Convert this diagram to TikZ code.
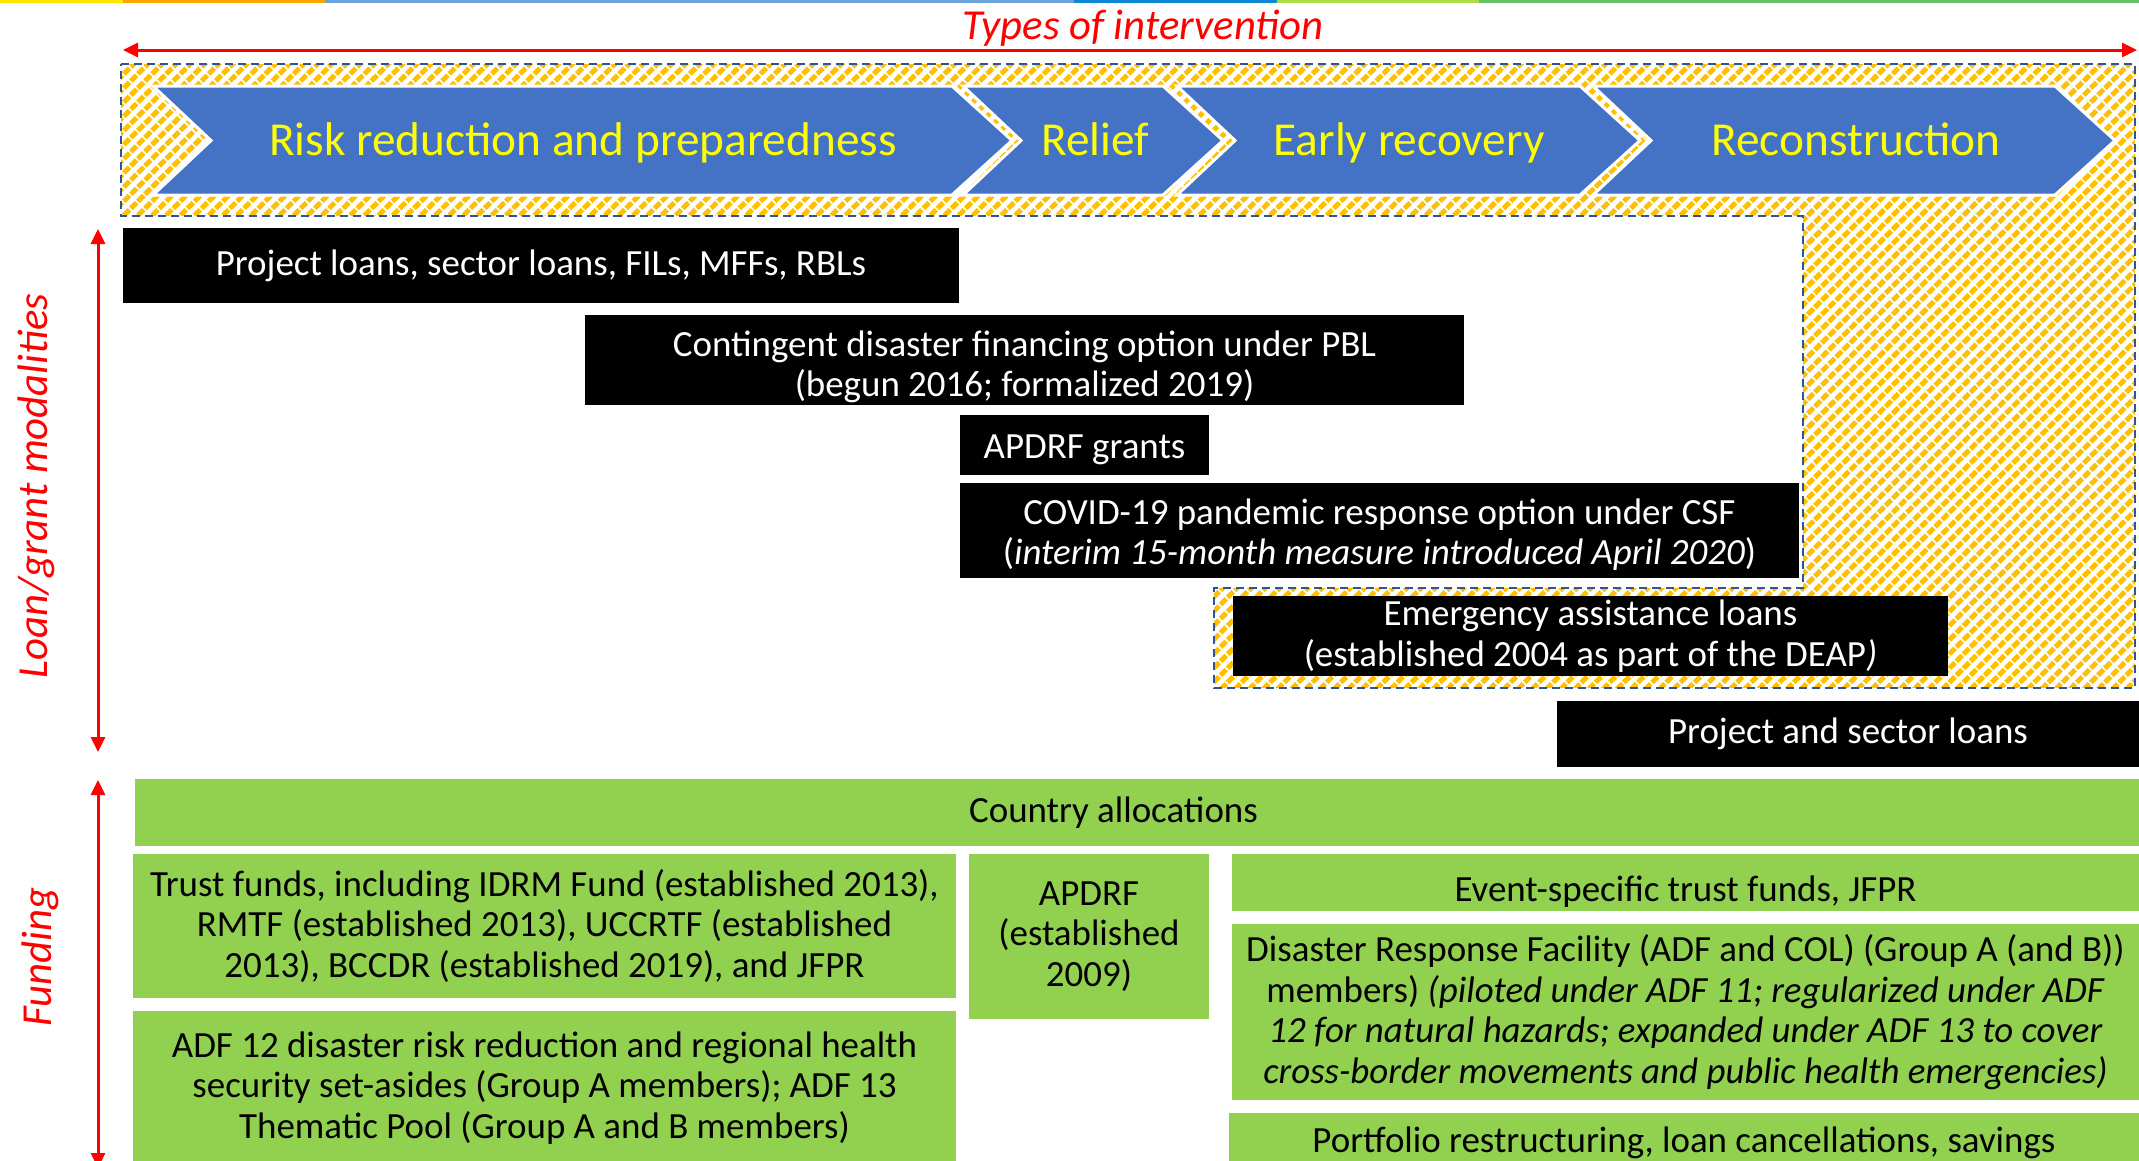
\documentclass[tikz,border=0pt]{standalone}
\usepackage{fontspec}
\setmainfont{Carlito}
\usetikzlibrary{arrows.meta,patterns.meta}
\definecolor{chevblue}{HTML}{4472C4}
\definecolor{hatchorange}{HTML}{FFC000}
\definecolor{dashblue}{HTML}{2F5597}
\definecolor{fundgreen}{HTML}{92D050}
\definecolor{textyellow}{HTML}{FFFF00}

% lowers one line of text without changing the size TikZ sees
\newcommand{\lowerline}[2]{\raisebox{-#1}[\height][\depth]{#2}}

\tikzset{
  chev/.style={fill=chevblue, draw=white, line width=0.03cm},
  chevtext/.style={text=textyellow, inner sep=0pt, anchor=base, font=\fontsize{13.45}{15}\selectfont},
  modbox/.style={fill=black, text=white, inner sep=0pt, align=center, font=\fontsize{10.5}{11.5}\selectfont},
  fundbox/.style={fill=fundgreen, text=black, inner sep=0pt, align=center, font=\fontsize{10.5}{11.5}\selectfont},
  redlabel/.style={text=red, inner sep=0pt, font=\fontsize{12.15}{14}\selectfont\itshape},
  redarrow/.style={draw=red, line width=0.03cm, {Triangle[length=0.15cm,width=0.14cm]}-{Triangle[length=0.15cm,width=0.14cm]}},
  hatchzone/.style={pattern={Lines[angle=45,distance=0.1cm,line width=0.05cm]}, pattern color=hatchorange,
    draw=dashblue, line width=0.025cm, dash pattern=on 0.08cm off 0.05cm}
}

\begin{document}
\begin{tikzpicture}[x=0.01cm,y=-0.01cm]
  \useasboundingbox (0,0) rectangle (2139,1160);
  \clip (0,0) rectangle (2139,1160);

  % colour strip along the top edge
  \fill[yellow!90!orange] (0,0) rectangle (123,3);
  \fill[orange!70!yellow] (123,0) rectangle (325,3);
  \fill[cyan!60!blue!60] (325,0) rectangle (1074,3);
  \fill[cyan!70!blue] (1074,0) rectangle (1277,3);
  \fill[yellow!60!green!80] (1277,0) rectangle (1479,3);
  \fill[green!60!black!60] (1479,0) rectangle (2139,3);

  % types of intervention
  \coordinate (TypeL) at (123,50);
  \coordinate (TypeR) at (2137,50);
  \draw[redarrow] (TypeL) -- (TypeR);
  \node[redlabel] (types) at (1143,28) {Types of intervention};

  % hatched zone
  \path[hatchzone] (121,64) -- (2135,64) -- (2135,688) -- (1214,688) -- (1214,588)
    -- (1803,588) -- (1803,216) -- (121,216) -- cycle;

  % chevrons
  \foreach \xa/\xb/\tx/\nm/\txt in {153/952/583/risk/Risk reduction and preparedness,
      963/1163/1095/relief/Relief, 1177/1580/1409/early/Early recovery,
      1593/2055/1856/recon/Reconstruction}{
    \path[chev] (\xa,86) -- (\xb,86) -- (\xb+60,140.5) -- (\xb,195) -- (\xa,195) -- (\xa+58,140.5) -- cycle;
    \node[chevtext] (\nm) at (\tx,155) {\txt};
  }

  % loan/grant modalities
  \coordinate (LoanT) at (98,229);
  \coordinate (LoanB) at (98,752);
  \draw[redarrow] (LoanT) -- (LoanB);
  \node[redlabel, rotate=90] (loan) at (36,486) {Loan/grant modalities};

  \node[modbox, minimum width=8.36cm, minimum height=0.75cm] (proj) at (541,265.5)
    {Project loans, sector loans, FILs, MFFs, RBLs};
  \node[modbox, minimum width=8.79cm, minimum height=0.90cm] (cont) at (1024.5,360)
    {\lowerline{0.07cm}{Contingent disaster financing option under PBL}\\\lowerline{0.07cm}{(begun 2016; formalized 2019)}};
  \node[modbox, minimum width=2.49cm, minimum height=0.60cm] (apgrant) at (1084.5,445)
    {\lowerline{0.05cm}{APDRF grants}};
  \node[modbox, minimum width=8.39cm, minimum height=0.95cm] (covid) at (1379.5,530.5)
    {\lowerline{0.04cm}{COVID-19 pandemic response option under CSF}\\\lowerline{0.04cm}{(\textit{interim 15-month measure introduced April 2020})}};
  \node[modbox, minimum width=7.15cm, minimum height=0.80cm] (emerg) at (1590.5,636)
    {Emergency assistance loans\\(established 2004 as part of the DEAP\textit{)}};
  \node[modbox, minimum width=5.82cm, minimum height=0.66cm] (projsec) at (1848,734)
    {Project and sector loans};

  % funding
  \coordinate (FundT) at (98,780);
  \coordinate (FundB) at (98,1168);
  \draw[redarrow] (FundT) -- (FundB);
  \node[redlabel, rotate=90] (fund) at (40,957) {Funding};

  \node[fundbox, minimum width=20.03cm, minimum height=0.67cm] (country) at (1137.5,812.5)
    {Country allocations\kern0.48cm};
  \node[fundbox, minimum width=8.23cm, minimum height=1.44cm] (trust) at (544.5,926)
    {Trust funds, including IDRM Fund (established 2013),\\RMTF (established 2013), UCCRTF (established\\2013), BCCDR (established 2019), and JFPR};
  \node[fundbox, minimum width=8.23cm, minimum height=1.54cm] (adf) at (544.5,1088)
    {ADF 12 disaster risk reduction and regional health\\security set-asides (Group A members); ADF 13\\Thematic Pool (Group A and B members)};
  \node[fundbox, minimum width=2.40cm, minimum height=1.65cm] (apdrf) at (1089,936.5)
    {APDRF\\(established\\2009)};
  \node[fundbox, minimum width=9.07cm, minimum height=0.57cm] (event) at (1685.5,882.5)
    {\lowerline{0.09cm}{Event-specific trust funds, JFPR}};
  \node[fundbox, minimum width=9.07cm, minimum height=1.76cm] (drf) at (1685.5,1012)
    {Disaster Response Facility (ADF and COL) (Group A (and B))\\members) \textit{(piloted under ADF 11; regularized under ADF}\\\textit{12 for natural hazards; expanded under ADF 13 to cover}\\\textit{cross-border movements and public health emergencies)}};
  \node[fundbox, minimum width=9.10cm, minimum height=0.60cm] (port) at (1684,1143)
    {Portfolio restructuring, loan cancellations, savings};
\end{tikzpicture}
\end{document}
